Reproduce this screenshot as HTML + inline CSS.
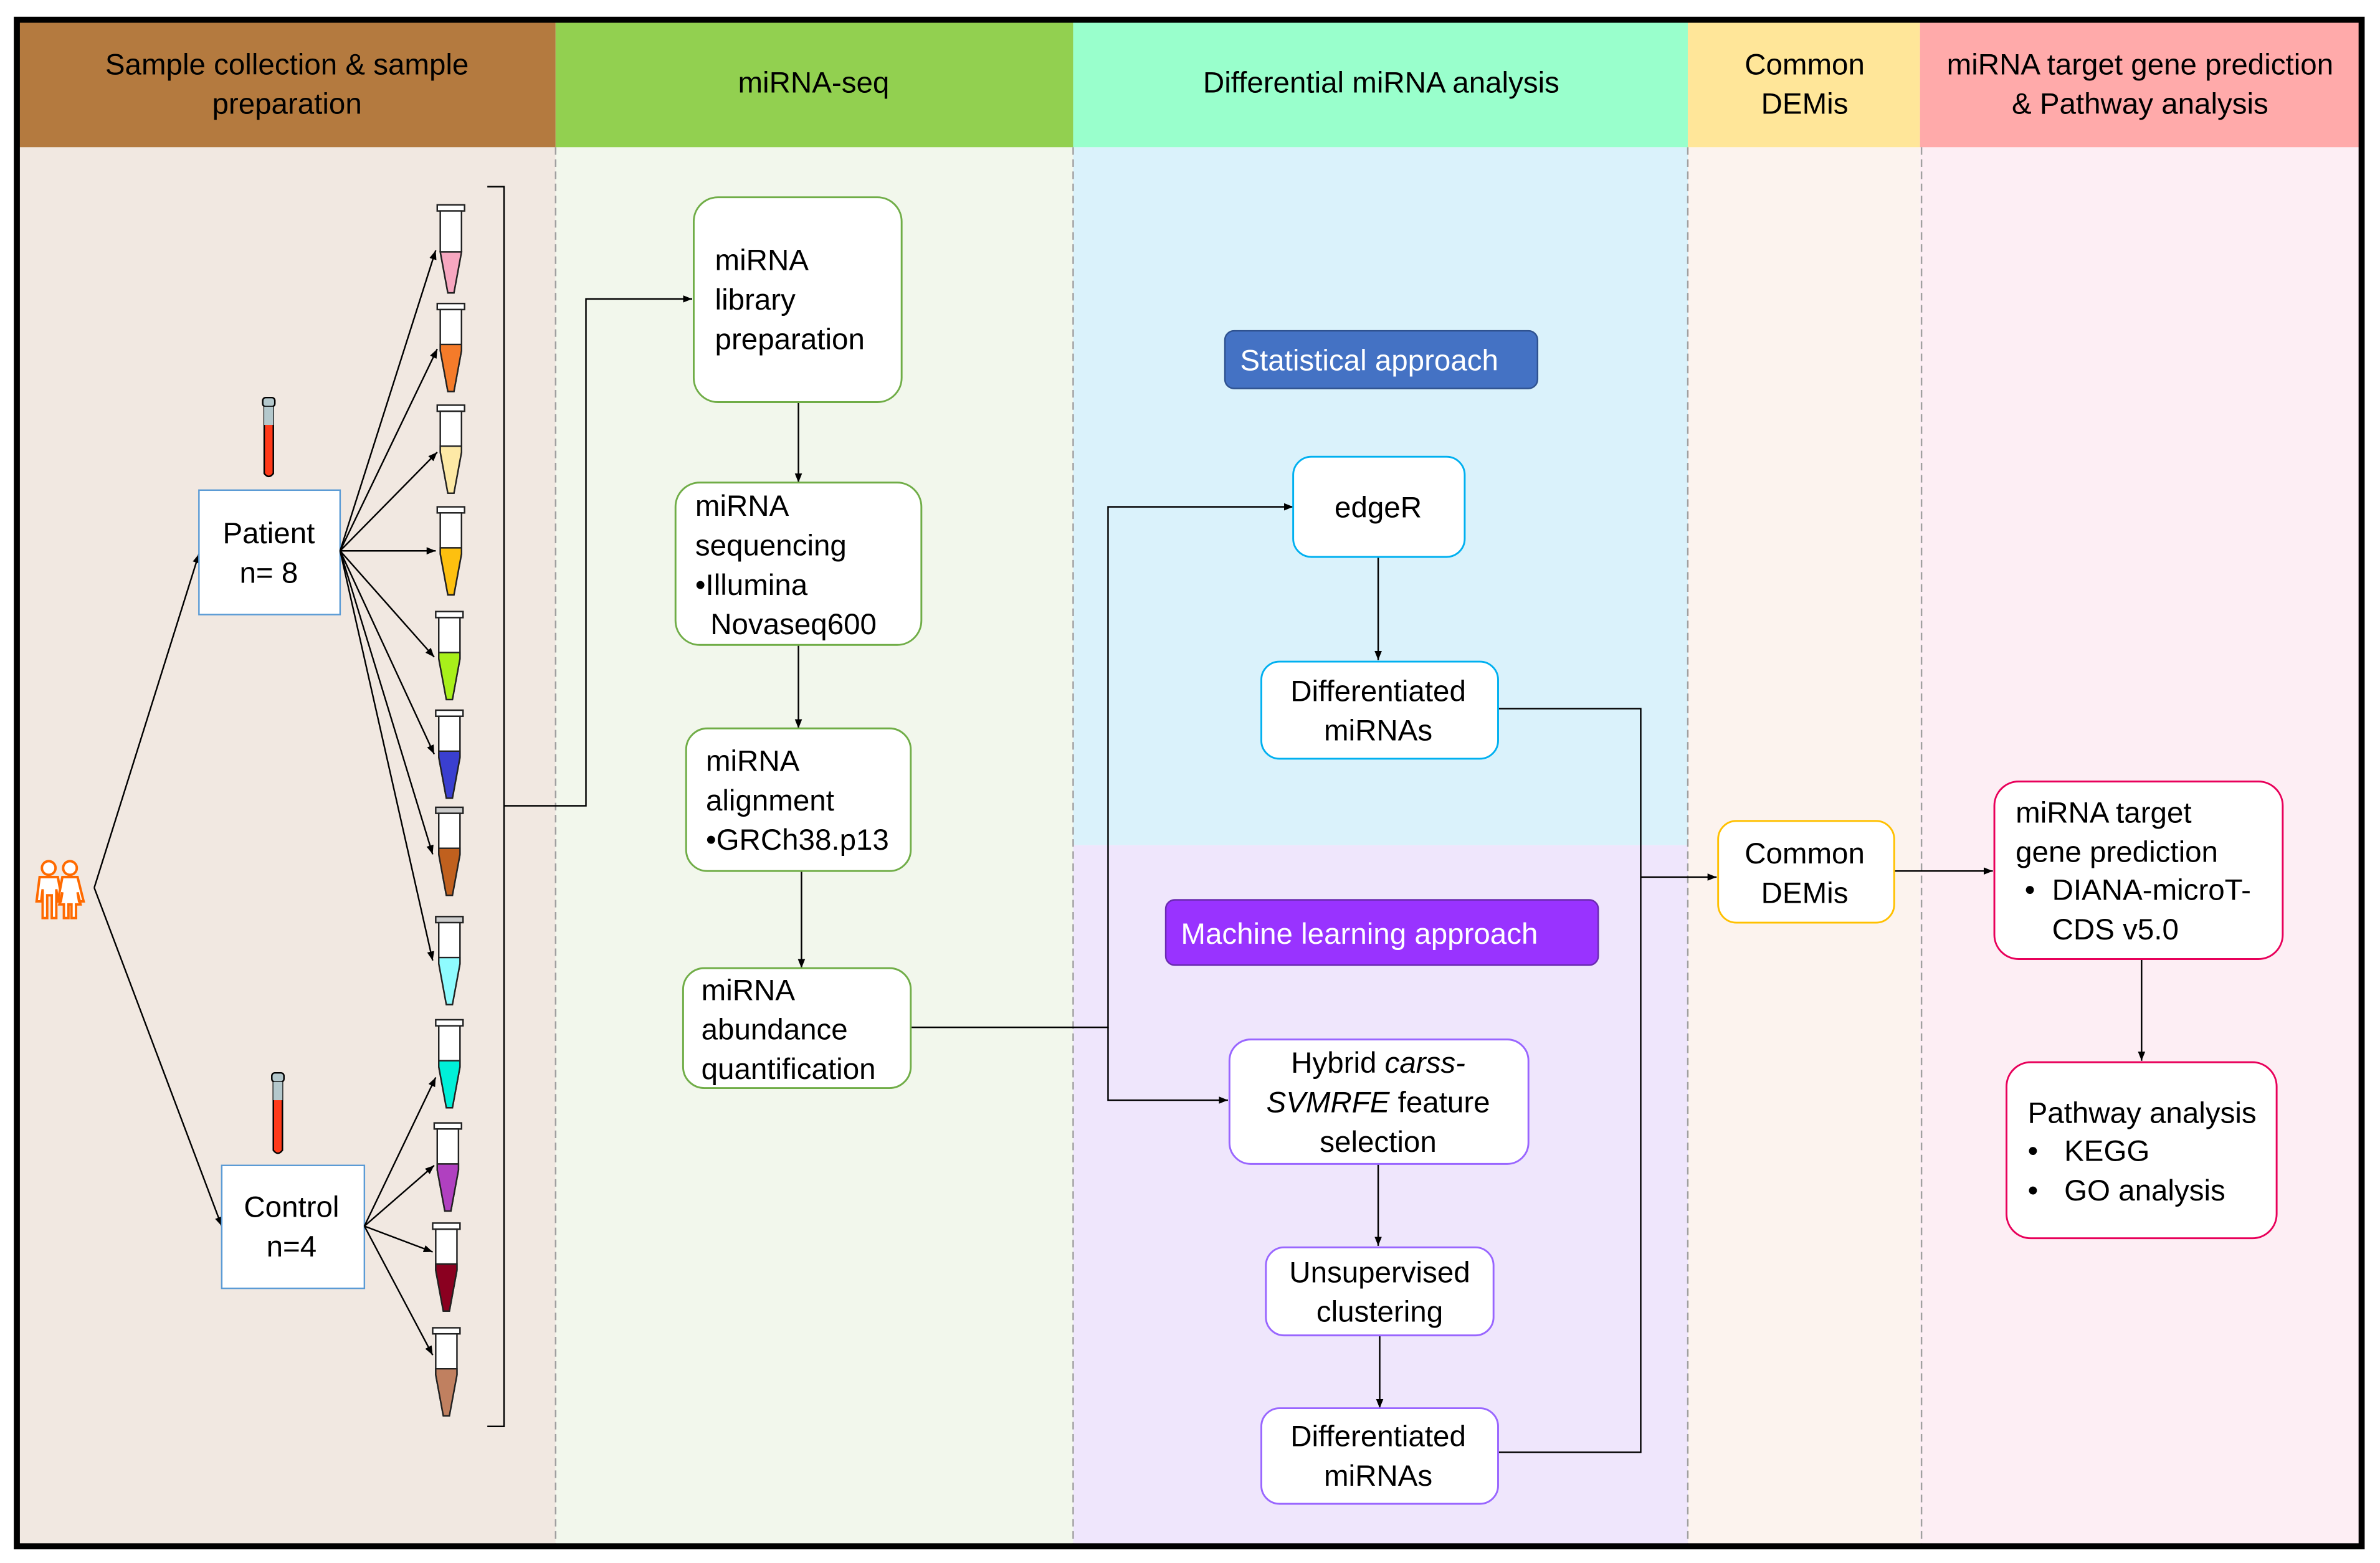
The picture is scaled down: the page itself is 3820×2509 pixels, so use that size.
<!DOCTYPE html>
<html><head><meta charset="utf-8"><style>
html,body{margin:0;padding:0;background:#fff}
svg{display:block}
text{font-family:"Liberation Sans",sans-serif;font-size:19.5px;fill:#000}
</style></head><body>
<svg xmlns="http://www.w3.org/2000/svg" width="3820" height="2509" viewBox="0 0 1568 1030">
<defs>
<marker id="a" viewBox="0 0 10 10" refX="10" refY="5" markerWidth="6" markerHeight="6" orient="auto" markerUnits="userSpaceOnUse"><path d="M0,1 L10,5 L0,9 Z" fill="#000"/></marker>
</defs>
<rect width="1568" height="1030" fill="#fff"/>
<rect x="10" y="97" width="356" height="923" fill="#f1e8e1"/>
<rect x="366" y="97" width="341" height="923" fill="#f2f7ec"/>
<rect x="707" y="97" width="405" height="460" fill="#daf2fb"/>
<rect x="707" y="557" width="405" height="463" fill="#efe6fc"/>
<rect x="1112" y="97" width="153" height="923" fill="#fcf3ee"/>
<rect x="1265" y="97" width="292" height="923" fill="#fdeef4"/>
<rect x="10" y="14" width="356" height="83" fill="#b47a3f"/>
<rect x="366" y="14" width="341" height="83" fill="#92d050"/>
<rect x="707" y="14" width="405" height="83" fill="#99ffcc"/>
<rect x="1112" y="14" width="153" height="83" fill="#ffe699"/>
<rect x="1265" y="14" width="292" height="83" fill="#ffaaaa"/>
<g stroke="#a0a0a0" stroke-width="1" stroke-dasharray="5,3">
<line x1="366" y1="97" x2="366" y2="1020"/><line x1="707" y1="97" x2="707" y2="1020"/>
<line x1="1112" y1="97" x2="1112" y2="1020"/><line x1="1266" y1="97" x2="1266" y2="1020"/>
</g>
<rect x="11" y="13" width="1545" height="1006" fill="none" stroke="#000" stroke-width="4"/>
<g text-anchor="middle">
<text x="189" y="49">Sample collection &amp; sample</text>
<text x="189" y="75">preparation</text>
<text x="536" y="61">miRNA-seq</text>
<text x="910" y="61">Differential miRNA analysis</text>
<text x="1189" y="49">Common</text>
<text x="1189" y="75">DEMis</text>
<text x="1410" y="49">miRNA target gene prediction</text>
<text x="1410" y="75">&amp; Pathway analysis</text>
</g>
<g fill="#fff" stroke="#ff6a00" stroke-width="1.6">
<circle cx="32" cy="572" r="4.5"/>
<path d="M26,578 H38 L41,594 H38 L37,586 V605 H34 V590 H31 V605 H28 V586 L27,594 H24 Z"/>
<circle cx="46" cy="572" r="4.5"/>
<path d="M41,578 H51 L55,594 H52 L51,588 L53,596 H50 V605 H47 V596 H45 V605 H42 V596 H39 L41,588 L40,594 H38 Z"/>
</g>
<g stroke="#000" stroke-width="1" fill="none" marker-end="url(#a)">
<line x1="62" y1="585" x2="131" y2="365"/>
<line x1="62" y1="585" x2="146" y2="808"/>
</g>
<g>
<rect x="173" y="262" width="8" height="6" rx="2" fill="#b4c8cc" stroke="#000" stroke-width="1"/>
<path d="M174,268 H180 V312 Q177,316 174,312 Z" fill="#ff3a1a" stroke="#000" stroke-width="1"/>
<rect x="174" y="268" width="6" height="12" fill="#b4c8cc"/>
<rect x="179" y="707" width="8" height="6" rx="2" fill="#b4c8cc" stroke="#000" stroke-width="1"/>
<path d="M180,713 H186 V758 Q183,762 180,758 Z" fill="#ff3a1a" stroke="#000" stroke-width="1"/>
<rect x="180" y="713" width="6" height="12" fill="#b4c8cc"/>
</g>
<rect x="131" y="323" width="93" height="82" fill="#fff" stroke="#5b9bd5" stroke-width="1"/>
<text x="177" y="358" text-anchor="middle">Patient</text>
<text x="177" y="384" text-anchor="middle">n= 8</text>
<rect x="146" y="768" width="94" height="81" fill="#fff" stroke="#5b9bd5" stroke-width="1"/>
<text x="192" y="802" text-anchor="middle">Control</text>
<text x="192" y="828" text-anchor="middle">n=4</text>
<g stroke="#000" stroke-width="1" fill="none" marker-end="url(#a)">
<line x1="224" y1="363" x2="287" y2="165"/>
<line x1="224" y1="363" x2="288" y2="230"/>
<line x1="224" y1="363" x2="288" y2="298"/>
<line x1="224" y1="363" x2="287" y2="363"/>
<line x1="224" y1="363" x2="286" y2="433"/>
<line x1="224" y1="363" x2="286" y2="497"/>
<line x1="224" y1="363" x2="285" y2="563"/>
<line x1="224" y1="363" x2="285" y2="633"/>
<line x1="240" y1="808" x2="287" y2="710"/>
<line x1="240" y1="808" x2="286" y2="768"/>
<line x1="240" y1="808" x2="285" y2="825"/>
<line x1="240" y1="808" x2="285" y2="893"/>
</g>
<g stroke="#222" stroke-width="1">
<g transform="translate(297,135)"><rect x="-9" y="0" width="18" height="4" fill="#fff"/><path d="M-7,4 H7 V31 L2,58 H-2 L-7,31 Z" fill="#fff"/><path d="M-7,31 H7 L2,58 H-2 Z" fill="#f7a7c0"/></g>
<g transform="translate(297,200)"><rect x="-9" y="0" width="18" height="4" fill="#fff"/><path d="M-7,4 H7 V31 L2,58 H-2 L-7,31 Z" fill="#fff"/><path d="M-7,27 H7 V31 L2,58 H-2 L-7,31 Z" fill="#f47b2a"/></g>
<g transform="translate(297,267)"><rect x="-9" y="0" width="18" height="4" fill="#fff"/><path d="M-7,4 H7 V31 L2,58 H-2 L-7,31 Z" fill="#fff"/><path d="M-7,27 H7 V31 L2,58 H-2 L-7,31 Z" fill="#fde9a6"/></g>
<g transform="translate(297,334)"><rect x="-9" y="0" width="18" height="4" fill="#fff"/><path d="M-7,4 H7 V31 L2,58 H-2 L-7,31 Z" fill="#fff"/><path d="M-7,27 H7 V31 L2,58 H-2 L-7,31 Z" fill="#fdc00f"/></g>
<g transform="translate(296,403)"><rect x="-9" y="0" width="18" height="4" fill="#fff"/><path d="M-7,4 H7 V31 L2,58 H-2 L-7,31 Z" fill="#fff"/><path d="M-7,27 H7 V31 L2,58 H-2 L-7,31 Z" fill="#a8f01a"/></g>
<g transform="translate(296,468)"><rect x="-9" y="0" width="18" height="4" fill="#fff"/><path d="M-7,4 H7 V31 L2,58 H-2 L-7,31 Z" fill="#fff"/><path d="M-7,27 H7 V31 L2,58 H-2 L-7,31 Z" fill="#3a3fd0"/></g>
<g transform="translate(296,532)"><rect x="-9" y="0" width="18" height="4" fill="#ccc"/><path d="M-7,4 H7 V31 L2,58 H-2 L-7,31 Z" fill="#fff"/><path d="M-7,27 H7 V31 L2,58 H-2 L-7,31 Z" fill="#c0601e"/></g>
<g transform="translate(296,604)"><rect x="-9" y="0" width="18" height="4" fill="#ccc"/><path d="M-7,4 H7 V31 L2,58 H-2 L-7,31 Z" fill="#fff"/><path d="M-7,27 H7 V31 L2,58 H-2 L-7,31 Z" fill="#8ffcff"/></g>
<g transform="translate(296,672)"><rect x="-9" y="0" width="18" height="4" fill="#fff"/><path d="M-7,4 H7 V31 L2,58 H-2 L-7,31 Z" fill="#fff"/><path d="M-7,27 H7 V31 L2,58 H-2 L-7,31 Z" fill="#00f0d8"/></g>
<g transform="translate(295,740)"><rect x="-9" y="0" width="18" height="4" fill="#fff"/><path d="M-7,4 H7 V31 L2,58 H-2 L-7,31 Z" fill="#fff"/><path d="M-7,27 H7 V31 L2,58 H-2 L-7,31 Z" fill="#b040c0"/></g>
<g transform="translate(294,806)"><rect x="-9" y="0" width="18" height="4" fill="#fff"/><path d="M-7,4 H7 V31 L2,58 H-2 L-7,31 Z" fill="#fff"/><path d="M-7,27 H7 V31 L2,58 H-2 L-7,31 Z" fill="#8a0020"/></g>
<g transform="translate(294,875)"><rect x="-9" y="0" width="18" height="4" fill="#fff"/><path d="M-7,4 H7 V31 L2,58 H-2 L-7,31 Z" fill="#fff"/><path d="M-7,27 H7 V31 L2,58 H-2 L-7,31 Z" fill="#c08060"/></g>
</g>
<g stroke="#000" stroke-width="1" fill="none">
<path d="M321,123 H332 V940 H321"/>
<path d="M332,531 H386 V197 H456" marker-end="url(#a)"/>
<line x1="526" y1="265" x2="526" y2="318" marker-end="url(#a)"/>
<line x1="526" y1="425" x2="526" y2="480" marker-end="url(#a)"/>
<line x1="528" y1="574" x2="528" y2="638" marker-end="url(#a)"/>
<path d="M600,677 H730 V334 H852" marker-end="url(#a)"/>
<path d="M730,677 V725 H809" marker-end="url(#a)"/>
<line x1="908" y1="367" x2="908" y2="435" marker-end="url(#a)"/>
<line x1="908" y1="767" x2="908" y2="821" marker-end="url(#a)"/>
<line x1="909" y1="880" x2="909" y2="928" marker-end="url(#a)"/>
<path d="M987,467 H1081 V957 H987"/>
<line x1="1081" y1="578" x2="1131" y2="578" marker-end="url(#a)"/>
<line x1="1248" y1="574" x2="1313" y2="574" marker-end="url(#a)"/>
<line x1="1411" y1="632" x2="1411" y2="699" marker-end="url(#a)"/>
</g>
<g fill="#fff" stroke="#70ad47" stroke-width="1.2">
<rect x="457" y="130" width="137" height="135" rx="16"/>
<rect x="445" y="318" width="162" height="107" rx="16"/>
<rect x="452" y="480" width="148" height="94" rx="14"/>
<rect x="450" y="638" width="150" height="79" rx="14"/>
</g>
<text x="471" y="178">miRNA</text><text x="471" y="204">library</text><text x="471" y="230">preparation</text>
<text x="458" y="340">miRNA</text><text x="458" y="366">sequencing</text><text x="458" y="392">•Illumina</text><text x="468" y="418">Novaseq600</text>
<text x="465" y="508">miRNA</text><text x="465" y="534">alignment</text><text x="465" y="560">•GRCh38.p13</text>
<text x="462" y="659">miRNA</text><text x="462" y="685">abundance</text><text x="462" y="711">quantification</text>
<rect x="807" y="218" width="206" height="38" rx="6" fill="#4472c4" stroke="#2f528f" stroke-width="1"/>
<text x="817" y="244" style="fill:#fff">Statistical approach</text>
<rect x="768" y="593" width="285" height="43" rx="6" fill="#9933ff" stroke="#6a2bb0" stroke-width="1"/>
<text x="778" y="622" style="fill:#fff">Machine learning approach</text>
<g fill="#fff" stroke="#00b0f0" stroke-width="1.2">
<rect x="852" y="301" width="113" height="66" rx="12"/>
<rect x="831" y="436" width="156" height="64" rx="12"/>
</g>
<g fill="#fff" stroke="#9966ff" stroke-width="1.2">
<rect x="810" y="685" width="197" height="82" rx="14"/>
<rect x="834" y="822" width="150" height="58" rx="12"/>
<rect x="831" y="928" width="156" height="63" rx="12"/>
</g>
<rect x="1132" y="541" width="116" height="67" rx="12" fill="#fff" stroke="#ffc000" stroke-width="1.2"/>
<g text-anchor="middle">
<text x="908" y="341">edgeR</text>
<text x="908" y="462">Differentiated</text><text x="908" y="488">miRNAs</text>
<text x="908" y="707">Hybrid <tspan font-style="italic">carss-</tspan></text>
<text x="908" y="733"><tspan font-style="italic">SVMRFE</tspan> feature</text>
<text x="908" y="759">selection</text>
<text x="909" y="845">Unsupervised</text><text x="909" y="871">clustering</text>
<text x="908" y="953">Differentiated</text><text x="908" y="979">miRNAs</text>
<text x="1189" y="569">Common</text><text x="1189" y="595">DEMis</text>
</g>
<g fill="#fff" stroke="#e8005a" stroke-width="1.2">
<rect x="1314" y="515" width="190" height="117" rx="16"/>
<rect x="1322" y="700" width="178" height="116" rx="16"/>
</g>
<text x="1328" y="542">miRNA target</text><text x="1328" y="568">gene prediction</text>
<text x="1334" y="593">•</text><text x="1352" y="593">DIANA-microT-</text><text x="1352" y="619">CDS v5.0</text>
<text x="1336" y="740">Pathway analysis</text>
<text x="1336" y="765">•</text><text x="1360" y="765">KEGG</text>
<text x="1336" y="791">•</text><text x="1360" y="791">GO analysis</text>
</svg>
</body></html>
